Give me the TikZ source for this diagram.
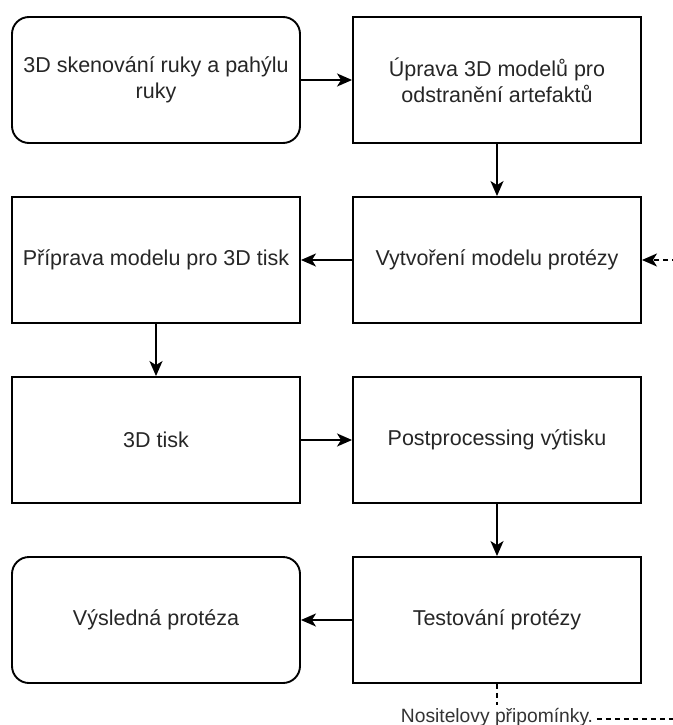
\documentclass[tikz,border=0pt]{standalone}
\usepackage{fontspec}
\setmainfont{Liberation Sans}
\usetikzlibrary{arrows.meta}
\tikzset{
  box/.style={draw=black, line width=1.9pt, minimum width=288pt, minimum height=126pt,
    inner sep=0pt, align=center, font=\fontsize{21.5}{26}\selectfont, text=black!85},
  rbox/.style={box, rounded corners=17pt},
  flow/.style={line width=1.9pt, -{Stealth[length=15pt,width=13pt,inset=4pt]}},
  fb/.style={line width=1.75pt, dash pattern=on 5pt off 4pt, -{Stealth[length=15pt,width=13pt,inset=4pt]}},
  lbl/.style={fill=white, inner sep=3pt, font=\fontsize{19.25}{23}\selectfont, text=black!80}
}
\begin{document}
\begin{tikzpicture}[x=1pt,y=-1pt]
\useasboundingbox (0,0) rectangle (672,725);
\node[rbox] (scan) at (156,80) {3D skenování ruky a pahýlu\\ruky};
\node[box] (uprava) at (497,80) {Úprava 3D modelů pro\\odstranění artefaktů};
\node[box] (tisk3d) at (156,260) {Příprava modelu pro 3D tisk};
\node[box] (vytv) at (497,260) {Vytvoření modelu protézy};
\node[box] (tisk) at (156,440) {3D tisk};
\node[box] (post) at (497,440) {Postprocessing výtisku};
\node[rbox] (vysl) at (156,620) {Výsledná protéza};
\node[box] (test) at (497,620) {Testování protézy};

\draw[flow] (scan) -- (uprava);
\draw[flow] (uprava) -- (vytv);
\draw[flow] (vytv) -- (tisk3d);
\draw[flow] (tisk3d) -- (tisk);
\draw[flow] (tisk) -- (post);
\draw[flow] (post) -- (test);
\draw[flow] (test) -- (vysl);

\coordinate (corner) at (497,719);
\coordinate (fr) at (700,719);
\coordinate (ftop) at (700,260);
\draw[fb] (test.south) -- (corner) -- (fr) -- (ftop) -- (vytv.east);
\node[lbl, anchor=base] (note) at (497,722) {Nositelovy připomínky.};
\end{tikzpicture}
\end{document}
